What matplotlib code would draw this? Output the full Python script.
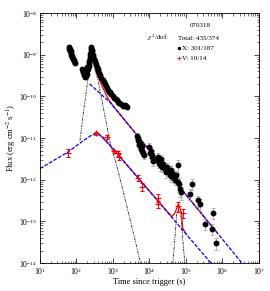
import matplotlib
matplotlib.use("Agg")
import matplotlib.pyplot as plt
import matplotlib.ticker as mticker
import numpy as np

plt.rcParams['font.family'] = ['Liberation Serif', 'DejaVu Serif']
plt.rcParams['mathtext.fontset'] = 'stix'

###############################################################################
# X-ray (XRT) light curve

x_time = [62, 64, 66, 67, 68, 70, 71, 73, 75, 77, 80, 83, 86, 90,
          145, 150, 155, 160, 165, 170, 175, 180, 185, 190, 195, 200,
          205, 210, 215, 220, 225, 230, 235, 240, 245, 250, 255, 262,
          270, 280, 290, 300, 320, 340, 360, 380, 400, 420, 450, 480,
          520, 560, 600, 650, 700, 750, 800, 850, 900, 1000, 1100, 1200,
          1300, 1400, 1500, 1700, 1900, 2100, 2300, 2500,
          4700, 4900, 5000, 5200, 5300, 5500, 5700, 5900, 6100, 6400, 6700, 7000,
          10000, 10500, 11000, 11500, 12000, 12500,
          16000, 17000, 18000, 19000, 20000, 21000, 22000, 24000, 26000, 28000,
          30000, 33000, 36000, 38000, 40000, 43000, 46000, 50000, 55000, 60000,
          60000, 65000, 70000, 75000,
          145000, 130000, 240000, 220000, 330000, 550000, 510000, 660000]
x_flux = [1.4e-9, 1.5e-9, 1.3e-9, 1.2e-9, 1.4e-9, 1.1e-9, 1.2e-9, 1.0e-9, 9.5e-10, 9e-10, 8e-10, 7.5e-10, 7e-10, 6.5e-10,
          4.5e-10, 4e-10, 3.8e-10, 3.3e-10, 3.5e-10, 3.0e-10, 3.2e-10, 3.6e-10, 3.1e-10, 3.4e-10, 5e-10, 4.2e-10,
          4.5e-10, 5.2e-10, 5.5e-10, 6.5e-10, 7e-10, 8e-10, 9e-10, 1.05e-9, 1.2e-9, 1.35e-9, 1.5e-9, 1.3e-9,
          1.2e-9, 1.0e-9, 9e-10, 8e-10, 7e-10, 6e-10, 5e-10, 4.5e-10, 4e-10, 3.6e-10, 3.2e-10, 2.8e-10,
          2.5e-10, 2.2e-10, 2e-10, 1.8e-10, 1.6e-10, 1.4e-10, 1.3e-10, 1.25e-10, 1.15e-10, 1.0e-10, 9e-11, 8.5e-11,
          8e-11, 7.5e-11, 7e-11, 6.5e-11, 6e-11, 6.2e-11, 5.8e-11, 5.5e-11,
          1.1e-11, 9e-12, 1.0e-11, 8e-12, 7e-12, 7.5e-12, 6e-12, 5.5e-12, 6.5e-12, 5e-12, 4.5e-12, 4e-12,
          6e-12, 4.5e-12, 5e-12, 3.5e-12, 4e-12, 2.8e-12,
          3e-12, 3.5e-12, 2.5e-12, 2.8e-12, 2.2e-12, 3.2e-12, 2.0e-12, 2.4e-12, 1.8e-12, 1.5e-12,
          2e-12, 1.6e-12, 1.3e-12, 1.7e-12, 1.2e-12, 1.4e-12, 1.1e-12, 1.0e-12, 1.3e-12, 9e-13,
          2.2e-12, 8e-13, 6e-13, 5e-13,
          7.9e-13, 4.6e-13, 2.6e-13, 3.2e-13, 8.7e-14, 1.6e-13, 6.6e-14, 3e-14]
x_err = [0.12] * 14 + [0.12] * 12 + [0.1] * 12 + [0.1] * 32 + [0.2] * 12 + [0.25] * 6 \
        + [0.25] * 20 + [0.35] * 4 + [0.3] * 8

# optical (V band) points
v_time = [59, 340, 690, 1100, 1400, 1500, 4800, 6100, 17000, 17000, 60000, 83000]
v_flux = [4.5e-12, 1.3e-11, 1.05e-11, 4.8e-12, 4.3e-12, 3.6e-12, 1.1e-12, 6.8e-13,
          3.7e-13, 2.6e-13, 2.3e-13, 1.6e-13]
v_err = [0.2, 0.08, 0.1, 0.1, 0.15, 0.15, 0.15, 0.2, 0.2, 0.2, 0.25, 0.25]

###############################################################################
# model curves, knots

xag_t = [230, 830, 3.6e6, 1e7]
xag_f = [2.0e-10, 7.2e-11, 9.5e-15, 3.2e-15]

xtot_t = [185, 215, 251, 300, 380, 490, 700, 1000, 7e5]
xtot_f = [3.5e-10, 5.8e-10, 9.7e-10, 6.5e-10, 3.3e-10, 1.85e-10, 9.5e-11, 6e-11, 5.5e-14]

flare_t = [125, 160, 210, 240, 252, 280, 390, 830, 1380, 3980, 6000]
flare_f = [8.7e-12, 5e-11, 2.9e-10, 6.5e-10, 7.9e-10, 6.5e-10, 2.45e-10, 8e-12, 1.66e-12, 3.8e-14, 8e-15]

oag_t = [10, 60, 150, 250, 363, 500, 830, 5.1e5, 2e6]
oag_f = [1.85e-12, 4.7e-12, 8.5e-12, 1.15e-11, 1.29e-11, 1.12e-11, 6.7e-12, 9.5e-15, 2.3e-15]

otot_t = [450, 830, 4.1e4, 5.0e4, 6.2e4, 7.6e4, 8.1e4, 1.0e5]
otot_f = [1.15e-11, 6.7e-12, 1.3e-13, 1.6e-13, 2.6e-13, 1.6e-13, 7e-14, 5.1e-14]

lflare_t = [4.4e4, 5.6e4, 6.2e4, 7.2e4, 9.3e4]
lflare_f = [1e-14, 1.5e-13, 1.9e-13, 1.5e-13, 1e-14]

x_ticks = [1e1, 1e2, 1e3, 1e4, 1e5, 1e6, 1e7]
y_ticks = [1e-14, 1e-13, 1e-12, 1e-11, 1e-10, 1e-9, 1e-8]

###############################################################################

fig = plt.figure(figsize=(2.7, 2.91), dpi=100)
ax = fig.add_axes([0.148, 0.096, 0.811, 0.859])

flare_kw = dict(color='#1a1a40', lw=0.6, dashes=(3, 1, 1, 1, 1, 1))
ax.plot(flare_t, flare_f, **flare_kw)
ax.plot(lflare_t, lflare_f, **flare_kw)

ax.plot(xtot_t, xtot_f, color='red', lw=0.9)
ax.plot(otot_t, otot_f, color='red', lw=0.9)
ax.plot(xag_t, xag_f, color='blue', lw=0.9, dashes=(3, 1.2))
ax.plot(oag_t, oag_f, color='blue', lw=0.9, dashes=(3, 1.2))

x_flux = np.array(x_flux)
ax.errorbar(x_time, x_flux, yerr=x_flux * np.array(x_err), fmt='o', color='black',
            ms=3.2, ecolor='#999999', elinewidth=0.5, capsize=1.2, capthick=0.5, zorder=3)

v_flux = np.array(v_flux)
ax.errorbar(v_time, v_flux, yerr=v_flux * np.array(v_err), fmt='+', color='red',
            ms=4, mew=0.8, ecolor='red', elinewidth=0.6, capsize=1.2, capthick=0.6, zorder=4)

ax.set_xscale('log')
ax.set_yscale('log')
ax.set_xticks(x_ticks)
ax.set_yticks(y_ticks)
ax.xaxis.set_minor_locator(mticker.LogLocator(base=10, subs=np.arange(2, 10)))
ax.yaxis.set_minor_locator(mticker.LogLocator(base=10, subs=np.arange(2, 10)))
ax.xaxis.set_minor_formatter(mticker.NullFormatter())
ax.yaxis.set_minor_formatter(mticker.NullFormatter())
ax.set_xlim(10, 1e7)
ax.set_ylim(1e-14, 1e-8)
ax.tick_params(which='both', direction='in', top=True, right=True, labelsize=5.5, pad=2)
ax.tick_params(which='major', length=3.5, width=0.5)
ax.tick_params(which='minor', length=1.8, width=0.4)
for s in ax.spines.values():
    s.set_linewidth(0.6)
ax.set_xlabel('Time since trigger (s)', fontsize=6, labelpad=0.5)
ax.set_ylabel('Flux (erg cm$^{-2}$ s$^{-1}$)', fontsize=6, labelpad=0.5)

# legend block
ax.text(0.73, 0.952, '070318', transform=ax.transAxes, fontsize=5, ha='center', va='center')
ax.text(0.49, 0.90, r'$\chi^2$/dof:', transform=ax.transAxes, fontsize=5, va='center')
ax.text(0.63, 0.90, 'Total: 435/374', transform=ax.transAxes, fontsize=5, va='center')
ax.plot([0.633], [0.86], 'o', color='black', ms=1.5, transform=ax.transAxes)
ax.text(0.65, 0.86, 'X: 301/187', transform=ax.transAxes, fontsize=5, va='center')
ax.plot([0.633], [0.82], '+', color='red', ms=3.5, mew=0.6, transform=ax.transAxes)
ax.text(0.65, 0.82, 'V: 10/14', transform=ax.transAxes, fontsize=5, va='center')

fig.savefig('out.png', dpi=100)
